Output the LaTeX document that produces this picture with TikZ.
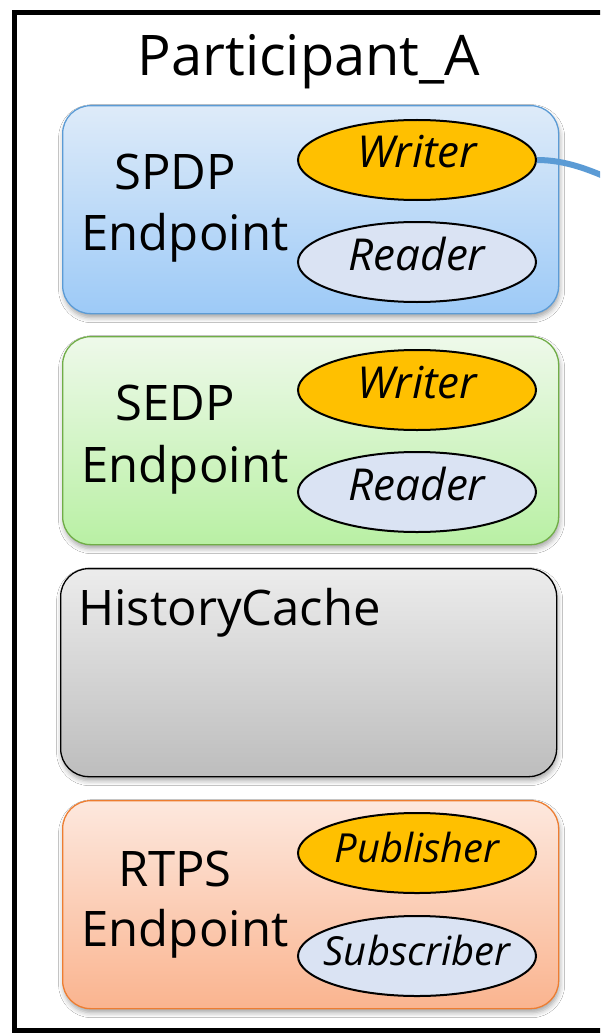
\documentclass[tikz,border=0pt]{standalone}
\usepackage{fontspec}
\setmainfont{Open Sans}
\usetikzlibrary{shapes.geometric,shadows.blur}

\definecolor{spdpTop}{HTML}{DEEBF9}
\definecolor{spdpBot}{HTML}{9DCAF7}
\definecolor{spdpLine}{HTML}{5B9BD5}
\definecolor{sedpTop}{HTML}{EEF9EA}
\definecolor{sedpBot}{HTML}{B9F0A4}
\definecolor{sedpLine}{HTML}{70AD47}
\definecolor{histTop}{HTML}{ECECEC}
\definecolor{histBot}{HTML}{BDBDBD}
\definecolor{rtpsTop}{HTML}{FDE8DE}
\definecolor{rtpsBot}{HTML}{FAB48F}
\definecolor{rtpsLine}{HTML}{ED7D31}
\definecolor{writerFill}{HTML}{FFC000}
\definecolor{readerFill}{HTML}{DAE3F3}
\definecolor{linkBlue}{HTML}{5B9BD5}

% role labels: zero-size box so the ellipse keeps its set size;
% the baseline sits a little below the ellipse centre
\newcommand{\rolelabel}[2][8pt]{\makebox[0pt][c]{\raisebox{-#1}[0pt][0pt]{#2}}}

\tikzset{
  group/.style={draw, rounded corners=28pt, line width=1.3pt,
    minimum width=496pt, minimum height=208pt, anchor=north west,
    blur shadow={shadow xshift=1pt, shadow yshift=-4pt, shadow blur radius=5pt, shadow opacity=35}},
  role/.style={ellipse, draw=black, line width=2pt, inner sep=0pt,
    minimum width=238pt, minimum height=80pt,
    font=\fontsize{44}{48}\selectfont\itshape},
  rolesmall/.style={role, font=\fontsize{40}{44}\selectfont\itshape},
  title/.style={font=\fontsize{49}{56}\selectfont, inner sep=0pt},
  link/.style={draw=linkBlue, line width=6pt}
}

\begin{document}
\begin{tikzpicture}[x=1pt,y=-1pt]
\useasboundingbox (0,0) rectangle (600,1035);
\fill[white] (0,0) rectangle (600,1035);
\clip (0,0) rectangle (600,1035);

% participant frame
\node[draw=black, line width=5pt, anchor=north west, minimum width=640pt,
      minimum height=1018pt, inner sep=0pt] (part) at (12,10) {};
\node[font=\fontsize{56}{62}\selectfont, inner sep=0pt] (partname) at (309,62) {Participant\_A};

% SPDP endpoint
\node[group, draw=spdpLine, top color=spdpTop, bottom color=spdpBot] (spdp) at (62,105) {};
\node[title] (spdpA) at (175,172) {SPDP};
\node[title] (spdpB) at (185,238) {Endpoint};
\node[role, fill=writerFill] (spdpW) at (417,160) {\rolelabel{Writer}};
\node[role, fill=readerFill] (spdpR) at (417,262) {\rolelabel{Reader}};

% SEDP endpoint
\node[group, draw=sedpLine, top color=sedpTop, bottom color=sedpBot] (sedp) at (62,336) {};
\node[title] (sedpA) at (175,403) {SEDP};
\node[title] (sedpB) at (185,470) {Endpoint};
\node[role, fill=writerFill] (sedpW) at (417,390) {\rolelabel{Writer}};
\node[role, fill=readerFill] (sedpR) at (417,492) {\rolelabel{Reader}};

% history cache
\node[group, draw=black, top color=histTop, bottom color=histBot] (hist) at (60,568) {};
\node[title, anchor=north west] (histname) at (78,588) {HistoryCache};

% RTPS endpoint
\node[group, draw=rtpsLine, top color=rtpsTop, bottom color=rtpsBot] (rtps) at (62,800) {};
\node[title] (rtpsA) at (175,869) {RTPS};
\node[title] (rtpsB) at (185,934) {Endpoint};
\node[rolesmall, fill=writerFill] (rtpsP) at (417,853) {\rolelabel[9pt]{Publisher}};
\node[rolesmall, fill=readerFill] (rtpsS) at (417,956) {\rolelabel[9pt]{Subscriber}};

% outgoing link from the SPDP writer
\coordinate (away) at (625,186);
\draw[link] (spdpW.east) .. controls (566,160) and (592,170) .. (away);
\end{tikzpicture}
\end{document}
